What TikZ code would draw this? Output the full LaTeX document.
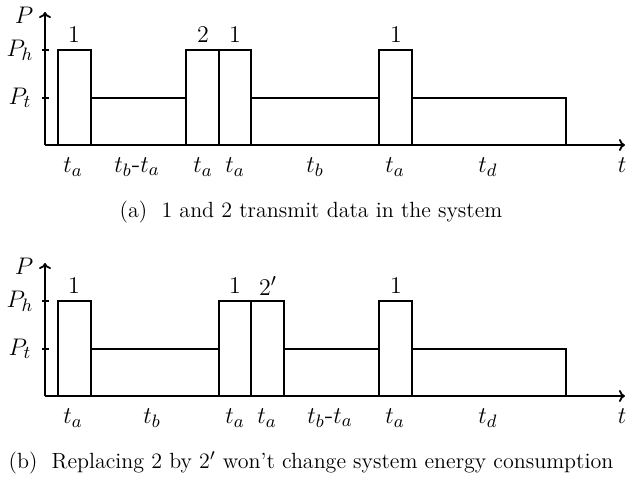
\documentclass[tikz,border=0pt]{standalone}
\usetikzlibrary{arrows.meta}
\begin{document}
\begin{tikzpicture}[x=0.5pt,y=-0.5pt,
  ln/.style={line width=0.9pt, line join=miter},
  ax/.style={line width=0.9pt, -{To[length=3pt,width=6pt]}},
  lbl/.style={font=\fontsize{13}{15}\selectfont, inner sep=0pt},
  captext/.style={font=\fontsize{11}{13}\selectfont, inner sep=0pt}]
\useasboundingbox (0,0) rectangle (629,481);
% ---------- panel (a) ----------
\begin{scope}
\coordinate (o) at (45,145);
\coordinate (ytop) at (45,12);
\coordinate (xend) at (625,145);
\draw[ax] (o) -- (ytop);
\draw[ax] (o) -- (xend);
\draw[ln] (42,50) -- (49,50);
\draw[ln] (42,98) -- (49,98);
\draw[ln] (58,145) -- (58,50) -- (91,50) -- (91,145);
\draw[ln] (91,98) -- (186,98);
\draw[ln] (186,145) -- (186,50) -- (251,50) -- (251,145);
\draw[ln] (219,50) -- (219,145);
\draw[ln] (251,98) -- (379,98);
\draw[ln] (379,145) -- (379,50) -- (412,50) -- (412,145);
\draw[ln] (412,98) -- (566,98) -- (566,145);
\node[lbl] (aP) at (24,15) {$P$};
\node[lbl] (aPh) at (20,50) {$P_h$};
\node[lbl] (aPt) at (20,98) {$P_t$};
\node[lbl] (a1) at (74,35) {$1$};
\node[lbl] (a2) at (203,35) {$2$};
\node[lbl] (a3) at (235,35) {$1$};
\node[lbl] (a4) at (396,35) {$1$};
\node[lbl] (at1) at (73,167) {$t_a$};
\node[lbl] (at2) at (137,167) {$t_b$-$t_a$};
\node[lbl] (at3) at (203,167) {$t_a$};
\node[lbl] (at4) at (235,167) {$t_a$};
\node[lbl] (at5) at (315,167) {$t_b$};
\node[lbl] (at6) at (395,167) {$t_a$};
\node[lbl] (at7) at (488,167) {$t_d$};
\node[lbl] (at8) at (622,165) {$t$};
\node[captext] (capa) at (311,212) {(a)\ \ 1 and 2 transmit data in the system};
\end{scope}
% ---------- panel (b) ----------
\begin{scope}[yshift=-125.5pt]
\coordinate (o) at (45,145);
\coordinate (ytop) at (45,12);
\coordinate (xend) at (625,145);
\draw[ax] (o) -- (ytop);
\draw[ax] (o) -- (xend);
\draw[ln] (42,50) -- (49,50);
\draw[ln] (42,98) -- (49,98);
\draw[ln] (58,145) -- (58,50) -- (91,50) -- (91,145);
\draw[ln] (91,98) -- (219,98);
\draw[ln] (219,145) -- (219,50) -- (284,50) -- (284,145);
\draw[ln] (251,50) -- (251,145);
\draw[ln] (284,98) -- (379,98);
\draw[ln] (379,145) -- (379,50) -- (412,50) -- (412,145);
\draw[ln] (412,98) -- (566,98) -- (566,145);
\node[lbl] (bP) at (24,15) {$P$};
\node[lbl] (bPh) at (20,50) {$P_h$};
\node[lbl] (bPt) at (20,98) {$P_t$};
\node[lbl] (b1) at (74,35) {$1$};
\node[lbl] (b2) at (235,35) {$1$};
\node[lbl] (b3) at (268,35) {$2'$};
\node[lbl] (b4) at (396,35) {$1$};
\node[lbl] (bt1) at (73,167) {$t_a$};
\node[lbl] (bt2) at (152,167) {$t_b$};
\node[lbl] (bt3) at (235,167) {$t_a$};
\node[lbl] (bt4) at (267,167) {$t_a$};
\node[lbl] (bt5) at (330,167) {$t_b$-$t_a$};
\node[lbl] (bt6) at (395,167) {$t_a$};
\node[lbl] (bt7) at (488,167) {$t_d$};
\node[lbl] (bt8) at (622,165) {$t$};
\node[captext] (capb) at (311,212) {(b)\ \ Replacing 2 by 2$'$ won't change system energy consumption};
\end{scope}
\end{tikzpicture}
\end{document}
